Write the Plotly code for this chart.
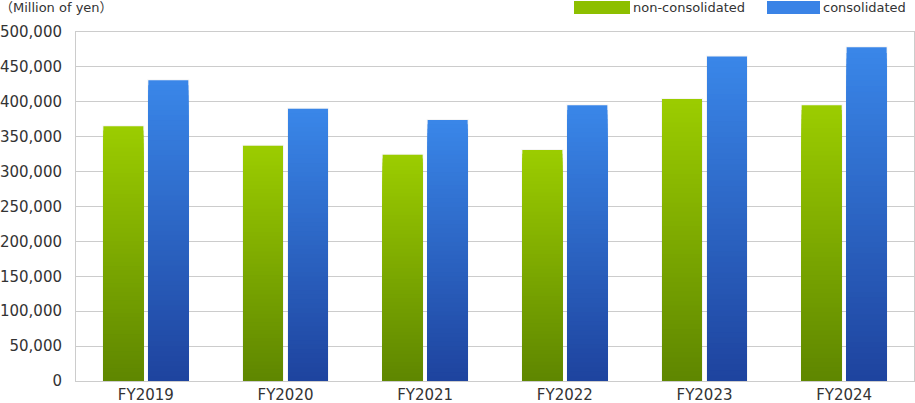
import plotly.graph_objects as go

categories = ["FY2019", "FY2020", "FY2021", "FY2022", "FY2023", "FY2024"]
non_consolidated = [365000, 337000, 324000, 331000, 404000, 395000]
consolidated = [431000, 390000, 374000, 395000, 465000, 478000]
y_tick_values = [0, 50000, 100000, 150000, 200000, 250000, 300000, 350000, 400000, 450000, 500000]
y_tick_labels = ["0", "50,000", "100,000", "150,000", "200,000", "250,000",
                 "300,000", "350,000", "400,000", "450,000", "500,000"]
series_names = ["non-consolidated", "consolidated"]
unit_label = "（Million of yen）"

W, H = 915, 403
ML, MR, MT, MB = 76, 1, 32, 22
FONT = "DejaVu Sans, Noto Sans CJK JP, sans-serif"
TXT = "#333333"

green_bottom = (0x5E, 0x86, 0x00)
green_top = (0x9C, 0xCD, 0x00)
blue_bottom = (0x1E, 0x43, 0x9E)
blue_top = (0x3A, 0x87, 0xE9)


def mix(c0, c1, t):
    return "rgb(%d,%d,%d)" % tuple(round(a + (b - a) * t) for a, b in zip(c0, c1))


N = 60
fig = go.Figure()

series = [
    (non_consolidated, "g", green_bottom, green_top),
    (consolidated, "b", blue_bottom, blue_top),
]

# very soft shadow behind bars
for vals, grp, c0, c1 in series:
    fig.add_trace(go.Bar(
        x=categories, y=vals, offsetgroup=grp,
        marker=dict(color="rgba(0,0,0,0)", line=dict(color="rgba(0,0,0,0.04)", width=2)),
        hoverinfo="skip", showlegend=False,
    ))

for vals, grp, c0, c1 in series:
    for k in range(N):
        frac = (N - k) / N
        col = mix(c0, c1, (N - k - 0.5) / N)
        fig.add_trace(go.Bar(
            x=categories, y=[v * frac for v in vals], offsetgroup=grp,
            marker=dict(color=col, line=dict(width=0)),
            hoverinfo="skip", showlegend=False,
        ))

fig.update_layout(
    width=W, height=H,
    margin=dict(l=ML, r=MR, t=MT, b=MB, autoexpand=False),
    paper_bgcolor="white", plot_bgcolor="white",
    barmode="group", bargap=0.356, bargroupgap=0.111,
    font=dict(family=FONT, color=TXT, size=15),
    showlegend=False,
    hovermode=False,
)
fig.update_xaxes(
    automargin=False,
    showgrid=False, showline=True, linecolor="#cccccc", linewidth=1, mirror=True,
    ticks="", tickfont=dict(size=15, color=TXT), ticklabelstandoff=0,
)
fig.update_yaxes(
    automargin=False,
    range=[0, 500000], tickvals=y_tick_values, ticktext=y_tick_labels,
    showgrid=True, gridcolor="#cccccc", gridwidth=1,
    showline=True, linecolor="#cccccc", linewidth=1, mirror=True,
    zeroline=False, ticks="", tickfont=dict(size=15, color=TXT), ticklabelstandoff=10,
)

pw, ph = W - ML - MR, H - MT - MB


def px(x):
    return (x - ML) / pw


def py(y):
    return (H - MB - y) / ph


# legend
legend_items = [
    (series_names[0], 574, 630, "#8dbf00"),
    (series_names[1], 767, 820, "#3a83e6"),
]
for name, x0, x1, col in legend_items:
    fig.add_shape(type="rect", xref="paper", yref="paper",
                  x0=px(x0), x1=px(x1), y0=py(14), y1=py(1),
                  fillcolor=col, line=dict(width=0))
    fig.add_annotation(xref="paper", yref="paper", x=px(x1 + 1), y=py(8),
                       text=name, showarrow=False, xanchor="left", yanchor="middle",
                       font=dict(size=13, color=TXT, family=FONT))

fig.add_annotation(xref="paper", yref="paper", x=px(-2), y=py(8),
                   text=unit_label, showarrow=False, xanchor="left", yanchor="middle",
                   font=dict(size=13, color=TXT, family=FONT))

fig.write_html("out.html",
               config={"displayModeBar": False, "staticPlot": True},
               post_script="document.body.style.margin='0';document.body.style.overflow='hidden';")
